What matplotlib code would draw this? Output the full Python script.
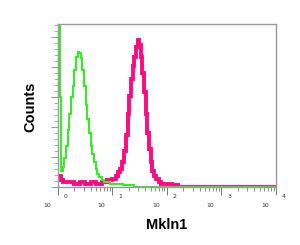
import matplotlib
matplotlib.use("Agg")
import matplotlib.pyplot as plt
from matplotlib.ticker import MultipleLocator, LogLocator, NullFormatter
import numpy as np

# histogram data, bin edges given as log10 of fluorescence
green_edges = [0, 0.03, 0.06, 0.09, 0.12, 0.15, 0.18, 0.21, 0.24, 0.27, 0.30, 0.33, 0.36,
               0.39, 0.42, 0.45, 0.48, 0.51, 0.54, 0.57, 0.60, 0.63, 0.66, 0.69, 0.72, 0.75,
               0.80, 0.85, 0.90, 0.95, 1.0, 1.1, 1.2, 1.3, 1.4, 4.0]
green_counts = [99, 55, 10, 12, 18, 25, 35, 45, 55, 62, 72, 80, 83, 82, 79, 72, 62, 50,
                42, 33, 25, 20, 15, 11, 8, 6, 4, 3, 3, 2, 2, 2, 1, 1, 0]

pink_edges = [0, 0.05, 0.1, 0.2, 0.3, 0.4, 0.5, 0.6, 0.7, 0.8, 0.9, 1.0, 1.06, 1.1, 1.14,
              1.18, 1.22, 1.25, 1.28, 1.31, 1.34, 1.37, 1.40, 1.43, 1.46, 1.49, 1.52, 1.55,
              1.58, 1.61, 1.64, 1.67, 1.70, 1.73, 1.76, 1.80, 1.85, 1.9, 2.0, 2.1, 2.2, 4.0]
pink_counts = [7, 4, 3, 3, 2, 3, 2, 3, 2, 3, 4, 5, 7, 9, 11, 15, 22, 32, 45, 56, 66, 74,
               80, 86, 90, 87, 80, 70, 58, 45, 33, 23, 15, 10, 7, 5, 3, 2, 2, 1, 0]

decades = [0, 1, 2, 3, 4]

fig = plt.figure(figsize=(3.0, 2.45), dpi=100)
ax = fig.add_axes([0.193, 0.237, 0.727, 0.665])

ax.stairs(pink_counts, 10 ** np.array(pink_edges), color='#ff0a84', lw=2.8, baseline=None)
ax.stairs(green_counts, 10 ** np.array(green_edges), color='#33ee22', lw=1.5, baseline=None)

ax.set_xscale('log')
ax.set_xlim(1, 1e4)
ax.set_ylim(0, 100)

for s in ax.spines.values():
    s.set_color('#9a9a9a')
    s.set_linewidth(1.0)

# x ticks: log with minor ticks, labels drawn by hand
ax.xaxis.set_major_locator(LogLocator(base=10, numticks=10))
ax.xaxis.set_minor_locator(LogLocator(base=10, subs=np.arange(2, 10), numticks=10))
ax.xaxis.set_major_formatter(NullFormatter())
ax.xaxis.set_minor_formatter(NullFormatter())
ax.tick_params(axis='x', which='major', length=6, width=0.7, color='#777777', direction='out')
ax.tick_params(axis='x', which='minor', length=3, width=0.6, color='#777777', direction='out')

# y ticks: no labels
unit = 100 / 163
ax.yaxis.set_major_locator(MultipleLocator(30 * unit))
ax.yaxis.set_minor_locator(MultipleLocator(6 * unit))
ax.yaxis.set_major_formatter(NullFormatter())
ax.tick_params(axis='y', which='major', length=5, width=0.6, color='#888888', direction='out')
ax.tick_params(axis='y', which='minor', length=3, width=0.5, color='#888888', direction='out')

# FlowJo style decade labels: "10" below-left, exponent right of tick
for d in decades:
    xf = d / 4
    ax.text(xf + 0.036, -0.06, str(d), transform=ax.transAxes, fontsize=4.5,
            ha='center', va='center', color='#333333')
    ax.text(xf - 0.05, -0.115, '10', transform=ax.transAxes, fontsize=4.5,
            ha='center', va='center', color='#333333')

fig.text(0.557, 0.082, 'Mkln1', fontsize=10.5, fontweight='bold',
         family='Liberation Sans', ha='center', va='center')
fig.text(0.1, 0.565, 'Counts', fontsize=10.5, fontweight='bold', rotation=90,
         family='Liberation Sans', ha='center', va='center')

fig.savefig('out.png', dpi=100)
